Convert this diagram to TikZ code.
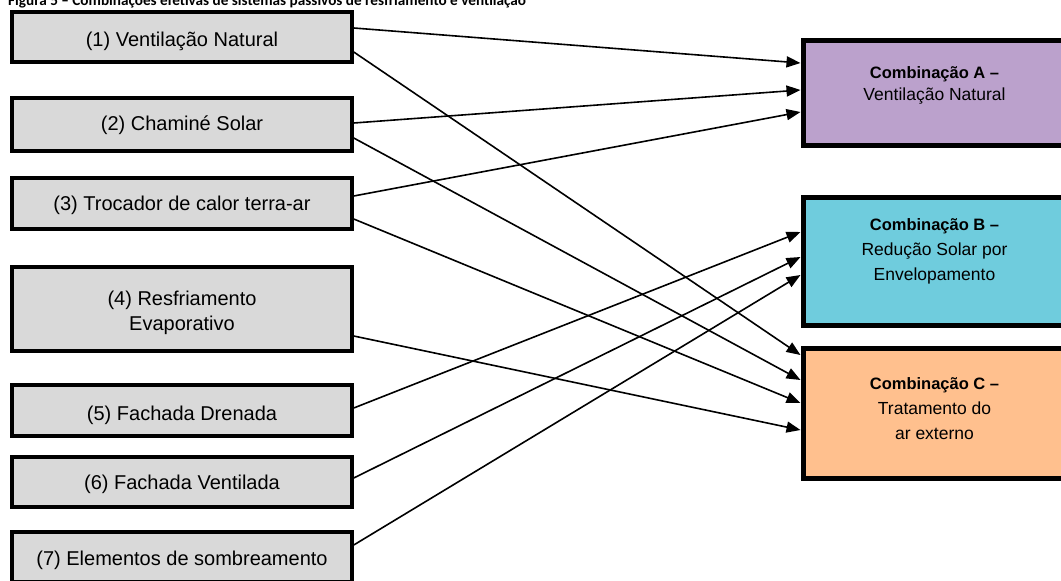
\documentclass[tikz,border=0pt]{standalone}
\usepackage{fontspec}
\setmainfont{Liberation Sans}
\newfontfamily\titlefont{Carlito}
\usetikzlibrary{arrows.meta}
\definecolor{srcgray}{HTML}{D9D9D9}
\definecolor{combA}{HTML}{BBA1CC}
\definecolor{combB}{HTML}{6FCCDD}
\definecolor{combC}{HTML}{FFC08E}
% move a label vertically without changing the size the node sees
\newcommand{\nudge}[2]{\raisebox{#1}[\height][\depth]{#2}}
\newcommand{\stack}[1]{\begin{tabular}{@{}c@{}}#1\end{tabular}}
\newcommand{\combhead}[1]{{\fontsize{16.5}{24}\selectfont\bfseries #1}}
\tikzset{
  srcbox/.style={draw=black, line width=3.5pt, fill=srcgray, minimum width=340pt,
    align=center, inner sep=0pt, font=\fontsize{20}{25}\selectfont},
  combbox/.style={draw=black, line width=5pt, fill=#1, minimum width=263pt,
    inner sep=0pt, font=\fontsize{17.5}{24}\selectfont},
  link/.style={line width=1.6pt, -{Triangle[length=14pt,width=11pt]}}
}
\begin{document}
\begin{tikzpicture}[x=1pt, y=-1pt]
\useasboundingbox (0,0) rectangle (1061,581);
% caption, partly above the page edge
\node[anchor=base west, inner sep=0pt, font=\titlefont\bfseries\fontsize{15.2}{18}\selectfont] (title) at (8,5)
  {Figura 5 – Combinações efetivas de sistemas passivos de resfriamento e ventilação};
% passive systems
\node[srcbox, minimum height=50pt] (b1) at (182,37) {\nudge{-4pt}{(1) Ventilação Natural}};
\node[srcbox, minimum height=53pt] (b2) at (182,124.5) {\nudge{-1pt}{(2) Chaminé Solar}};
\node[srcbox, minimum height=51pt] (b3) at (182,203.5) {\nudge{-2pt}{(3) Trocador de calor terra-ar}};
\node[srcbox, minimum height=84pt] (b4) at (182,309) {\nudge{-3.5pt}{\stack{(4) Resfriamento\\Evaporativo}}};
\node[srcbox, minimum height=51pt] (b5) at (182,410.5) {\nudge{-5pt}{(5) Fachada Drenada}};
\node[srcbox, minimum height=50pt] (b6) at (182,482) {\nudge{-2pt}{(6) Fachada Ventilada}};
\node[srcbox, minimum height=50pt] (b7) at (182,557) {\nudge{-3pt}{(7) Elementos de sombreamento}};
% combinations
\node[combbox=combA, minimum height=105pt] (cA) at (934.5,92.5)
  {\nudge{8pt}{\stack{\combhead{Combinação A –}\\[-2pt]Ventilação Natural}}};
\node[combbox=combB, minimum height=128pt] (cB) at (934.5,261)
  {\nudge{10.5pt}{\stack{\combhead{Combinação B –}\\[1pt]Redução Solar por\\[1pt]Envelopamento}}};
\node[combbox=combC, minimum height=130pt] (cC) at (934.5,413)
  {\nudge{3.5pt}{\stack{\combhead{Combinação C –}\\[1pt]Tratamento do\\[1pt]ar externo}}};
% links
\draw[link] ([yshift=9pt]b1.east) -- ([yshift=29.5pt]cA.west);
\draw[link] ([yshift=-15pt]b1.east) -- ([yshift=58pt]cC.west);
\draw[link] ([yshift=1.5pt]b2.east) -- ([yshift=2.5pt]cA.west);
\draw[link] ([yshift=-13.5pt]b2.east) -- ([yshift=33pt]cC.west);
\draw[link] ([yshift=7.5pt]b3.east) -- ([yshift=-19.5pt]cA.west);
\draw[link] ([yshift=-15.5pt]b3.east) -- ([yshift=10pt]cC.west);
\draw[link] ([yshift=-27pt]b4.east) -- ([yshift=-17pt]cC.west);
\draw[link] ([yshift=2.5pt]b5.east) -- ([yshift=29pt]cB.west);
\draw[link] ([yshift=4pt]b6.east) -- ([yshift=4pt]cB.west);
\draw[link] ([yshift=12pt]b7.east) -- ([yshift=-14pt]cB.west);
\end{tikzpicture}
\end{document}
